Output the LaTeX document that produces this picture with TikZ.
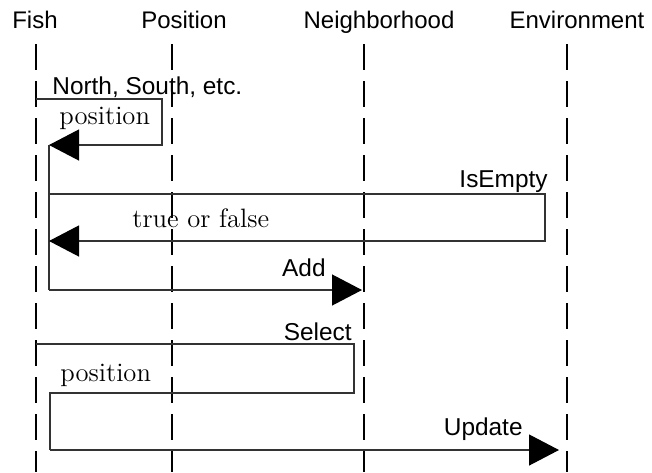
\documentclass[tikz,border=0pt]{standalone}
\usepackage{fontspec}
\setsansfont{Liberation Sans}
\usetikzlibrary{arrows.meta}

\begin{document}
\begin{tikzpicture}[x=0.5pt,y=-0.5pt]
        \tikzset{head/.style = {anchor=base,inner sep=0pt,font=\sffamily\fontsize{12}{14}\selectfont}}
        \tikzset{msg/.style = {inner sep=0pt,font=\sffamily\fontsize{12.2}{14}\selectfont}}
        \tikzset{ret/.style = {inner sep=0pt,font=\fontsize{13.3}{15}\selectfont}}
        \tikzset{lifeline/.style = {line width=1.4pt,dash pattern=on 13pt off 5.5pt}}
        \tikzset{call/.style = {line width=0.6pt,black!80,line join=miter}}
        \tikzset{edge/.style = {call,-{Triangle[length=15pt,width=15.5pt,color=black]}}}
        \useasboundingbox (0,0) rectangle (652,472);
        % objects
        \node[head] (fish) at  (35,28)  {Fish};
        \node[head] (pos)  at  (184,28) {Position};
        \node[head] (nbh)  at  (379,28) {Neighborhood};
        \node[head] (env)  at  (577,28) {Environment};
        % lifelines
        \coordinate (fishT) at (36,44);  \coordinate (fishB) at (36,472);
        \coordinate (posT)  at (172,44); \coordinate (posB)  at (172,472);
        \coordinate (nbhT)  at (364,44); \coordinate (nbhB)  at (364,472);
        \coordinate (envT)  at (567,44); \coordinate (envB)  at (567,472);
        \draw[lifeline] (fishT) -- (fishB);
        \draw[lifeline] (posT) -- (posB);
        \draw[lifeline] (nbhT) -- (nbhB);
        \draw[lifeline] (envT) -- (envB);
        % message points
        \coordinate (dirA) at (36,99);   \coordinate (dirB) at (162,99);
        \coordinate (dirC) at (162,145); \coordinate (dirD) at (49,145);
        \coordinate (empA) at (49,194);  \coordinate (empB) at (545,194);
        \coordinate (empC) at (545,241); \coordinate (empD) at (49,241);
        \coordinate (addA) at (49,290);  \coordinate (addB) at (362,290);
        \coordinate (selA) at (36,344);  \coordinate (selB) at (354,344);
        \coordinate (selC) at (354,393); \coordinate (selD) at (50,393);
        \coordinate (updA) at (50,450);  \coordinate (updB) at (559,450);
        % messages
        \draw[edge] (dirA) -- (dirB) -- (dirC) -- (dirD);
        \draw[call] (dirD) -- (addA);
        \draw[edge] (empA) -- (empB) -- (empC) -- (empD);
        \draw[edge] (addA) -- (addB);
        \draw[call] (selA) -- (selB) -- (selC) -- (selD) -- (updA);
        \draw[edge] (updA) -- (updB);
        % labels
        \node[msg,anchor=base west] (dirL)  at (52,94)   {North, South, etc.};
        \node[ret,anchor=base west] (dirR)  at (59,124)  {position};
        \node[msg,anchor=base east] (empL)  at (548,187) {IsEmpty};
        \node[ret,anchor=base west] (empR)  at (132,227) {true or false};
        \node[msg,anchor=base east] (addL)  at (326,276) {Add};
        \node[msg,anchor=base east] (selL)  at (352,340) {Select};
        \node[ret,anchor=base west] (selR)  at (60,381)  {position};
        \node[msg,anchor=base east] (updL)  at (523,435) {Update};
\end{tikzpicture}
\end{document}
